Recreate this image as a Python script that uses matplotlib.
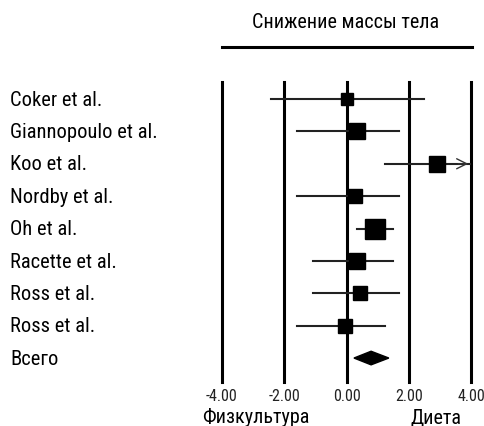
import matplotlib.pyplot as plt
from matplotlib.patches import Polygon

plt.rcParams['font.family'] = ['Roboto Condensed', 'DejaVu Sans']

# исследования, эффект и доверительный интервал
studies = ["Coker et al.", "Giannopoulo et al.", "Koo et al.", "Nordby et al.",
           "Oh et al.", "Racette et al.", "Ross et al.", "Ross et al."]
effect = [0.03, 0.35, 2.92, 0.27, 0.91, 0.35, 0.42, -0.06]
ci_low = [-2.42, -1.58, 1.25, -1.58, 0.34, -1.07, -1.07, -1.58]
ci_high = [2.49, 1.69, 4.6, 1.69, 1.50, 1.50, 1.69, 1.25]
weight = [8.6, 11.5, 11.5, 10.3, 13.7, 11.5, 10.3, 10.3]

total_label = "Всего"
total_effect = 0.79
total_low = 0.24
total_high = 1.36

xticks = [-4, -2, 0, 2, 4]

fig = plt.figure(figsize=(4.84, 4.27), dpi=100)
ax = fig.add_axes([222/484, 1-383/427, 249/484, 300/427])
ax.set_xlim(-4, 4)
ax.set_ylim(8.74, -0.525)

for x in xticks:
    ax.axvline(x, color='black', lw=2.2, clip_on=False, zorder=1)

for i, (e, lo, hi, w) in enumerate(zip(effect, ci_low, ci_high, weight)):
    if hi > 4:
        ax.plot([lo, 4], [i, i], color='#222222', lw=1.5, zorder=2)
        ax.annotate('', xy=(4, i), xytext=(3.5, i),
                    arrowprops=dict(arrowstyle='->', color='#333333', lw=1.0,
                                    mutation_scale=18), annotation_clip=False)
    else:
        ax.plot([lo, hi], [i, i], color='#222222', lw=1.5, zorder=2)
    ax.plot(e, i, marker='s', ms=w, color='black', zorder=3)

n = len(studies)
ax.add_patch(Polygon([(total_low, n), (total_effect, n - 0.21),
                      (total_high, n), (total_effect, n + 0.21)],
                     closed=True, color='black', zorder=3))

for i, s in enumerate(studies + [total_label]):
    fig.text(10/484, 1 - (100 + i*32.4)/427, s, fontsize=14.8, va='center', ha='left')

ax.set_xticks(xticks)
ax.set_xticklabels(["%.2f" % x for x in xticks], fontsize=11.5, color='#222222')
ax.tick_params(axis='x', length=0, pad=4)
ax.set_yticks([])
for sp in ax.spines.values():
    sp.set_visible(False)

fig.text(256/484, 1 - 418/427, "Физкультура", fontsize=14.5, ha='center', va='center')
fig.text(436/484, 1 - 418/427, "Диета", fontsize=14.5, ha='center', va='center')
fig.text(346/484, 1 - 22/427, "Снижение массы тела", fontsize=14.5, ha='center', va='center')
fig.add_artist(plt.Line2D([222/484, 472/484], [1 - 48/427, 1 - 48/427],
                          color='black', lw=2.2))

fig.savefig("out.png", dpi=100)
